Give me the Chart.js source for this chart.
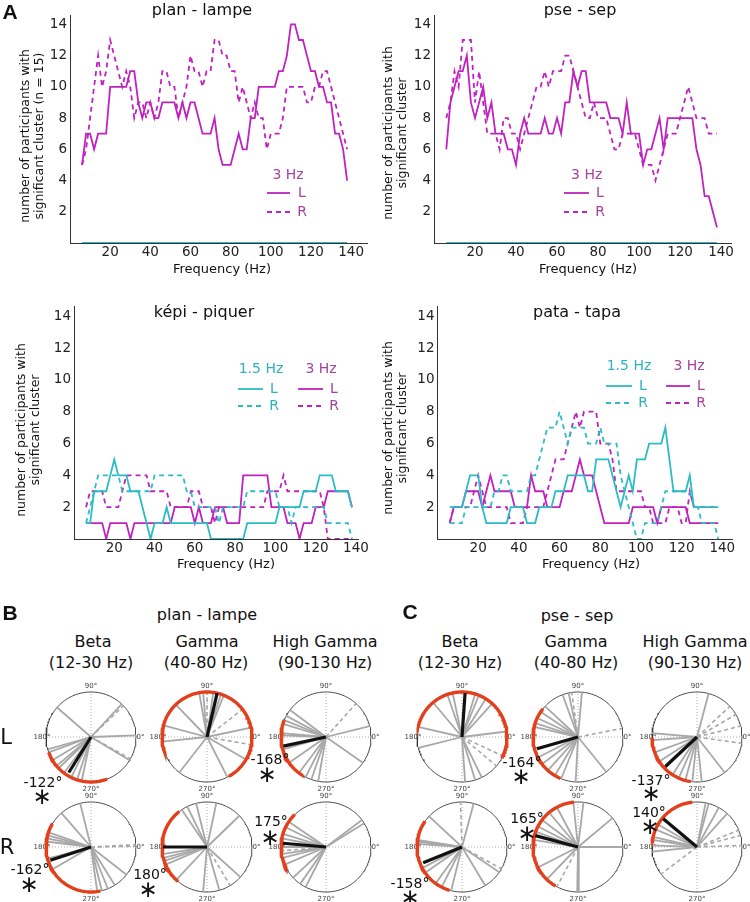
<!DOCTYPE html>
<html>
<head>
<meta charset="utf-8">
<script src="https://cdn.jsdelivr.net/npm/chart.js@4.4.1/dist/chart.umd.min.js"></script>
<style>
body { margin: 0; background: #fff; }
#page { position: relative; width: 750px; height: 902px; overflow: hidden; font-family: 'DejaVu Sans', sans-serif; color: #111; }
canvas { position: absolute; }
.t { position: absolute; transform: translate(-50%, -50%); white-space: nowrap; line-height: 1; }
.panel { font-family: 'Liberation Sans', Arial, sans-serif; font-weight: bold; font-size: 21px; }
.ttl { font-size: 16px; }
.xt { font-size: 13px; }
.yt { font-size: 12.5px; line-height: 14px; text-align: center; transform: translate(-50%, -50%) rotate(-90deg); }
.row { font-size: 21px; }
.ann { font-size: 14px; }
.star { font-size: 23px; color: #111; }
</style>
</head>
<body>
<div id="page">
  <canvas id="c1" width="375" height="280" style="left:0;top:0"></canvas>
  <canvas id="c2" width="375" height="280" style="left:375px;top:0"></canvas>
  <canvas id="c3" width="375" height="280" style="left:0;top:280px"></canvas>
  <canvas id="c4" width="375" height="280" style="left:375px;top:280px"></canvas>

  <div class="t panel" style="left:10px;top:11px">A</div>
  <div class="t ttl" style="left:202px;top:10px">plan - lampe</div>
  <div class="t ttl" style="left:580px;top:10px">pse - sep</div>
  <div class="t ttl" style="left:204px;top:312px">képi - piquer</div>
  <div class="t ttl" style="left:577px;top:312px">pata - tapa</div>
  <div class="t xt" style="left:222px;top:268px">Frequency (Hz)</div>
  <div class="t xt" style="left:588px;top:268px">Frequency (Hz)</div>
  <div class="t xt" style="left:226px;top:563px">Frequency (Hz)</div>
  <div class="t xt" style="left:591px;top:563px">Frequency (Hz)</div>
  <div class="t yt" style="left:32px;top:136px">number of participants with<br>significant cluster (n = 15)</div>
  <div class="t yt" style="left:395px;top:133px">number of participants with<br>significant cluster</div>
  <div class="t yt" style="left:28px;top:430px">number of participants with<br>significant cluster</div>
  <div class="t yt" style="left:395px;top:428px">number of participants with<br>significant cluster</div>

  <div class="t panel" style="left:10px;top:612px">B</div>
  <div class="t panel" style="left:410px;top:611px">C</div>
  <div class="t ttl" style="left:207px;top:615px">plan - lampe</div>
  <div class="t ttl" style="left:577px;top:616px">pse - sep</div>
  <div class="t ttl" style="left:93px;top:642px">Beta</div>
  <div class="t ttl" style="left:91px;top:663px">(12-30 Hz)</div>
  <div class="t ttl" style="left:207px;top:642px">Gamma</div>
  <div class="t ttl" style="left:206px;top:663px">(40-80 Hz)</div>
  <div class="t ttl" style="left:325px;top:642px">High Gamma</div>
  <div class="t ttl" style="left:325px;top:663px">(90-130 Hz)</div>
  <div class="t ttl" style="left:460px;top:642px">Beta</div>
  <div class="t ttl" style="left:460px;top:663px">(12-30 Hz)</div>
  <div class="t ttl" style="left:576px;top:642px">Gamma</div>
  <div class="t ttl" style="left:576px;top:663px">(40-80 Hz)</div>
  <div class="t ttl" style="left:695px;top:642px">High Gamma</div>
  <div class="t ttl" style="left:695px;top:663px">(90-130 Hz)</div>
  <div class="t row" style="left:6px;top:737px">L</div>
  <div class="t row" style="left:7px;top:847px">R</div>
</div>
<script>
// frequency axis (Hz)
const freqs = [6, 8, 10, 12, 14, 16, 18, 20, 22, 24,
  26, 28, 30, 32, 34, 36, 38, 40, 42, 44,
  46, 48, 50, 52, 54, 56, 58, 60, 62, 64,
  66, 68, 70, 72, 74, 76, 78, 80, 82, 84,
  86, 88, 90, 92, 94, 96, 98, 100, 102, 104,
  106, 108, 110, 112, 114, 116, 118, 120, 122, 124,
  126, 128, 130, 132, 134, 136, 138];

// plan - lampe, 3 Hz
const planL = [5, 7, 7, 6, 7, 7, 7, 10, 10, 10,
  10, 10, 11, 11, 9, 8, 9, 9, 8, 8,
  9, 9, 9, 9, 8, 9, 8, 9, 9, 8,
  7, 7, 7, 8, 6, 5, 5, 5, 6, 7,
  6, 6, 8, 8, 10, 10, 10, 10, 10, 11,
  11, 12, 14, 14, 13, 13, 12, 11, 11, 10,
  10, 9, 9, 7, 7, 6, 4];
const planR = [5, 6, 8, 10, 12, 10, 11, 13, 12, 11,
  10, 11, 10, 8, 9, 9, 8, 9, 8, 9,
  11, 11, 10, 10, 8, 9, 10, 12, 11, 11,
  10, 11, 11, 13, 13, 12, 12, 11, 11, 9,
  10, 9, 8, 9, 8, 8, 6, 7, 7, 7,
  8, 10, 10, 10, 10, 10, 9, 9, 10, 10,
  11, 11, 10, 9, 8, 7, 6];

// pse - sep, 3 Hz
const pseL = [6, 9, 10, 11, 11, 12, 9, 8, 9, 10,
  8, 9, 7, 7, 7, 6, 6, 5, 7, 8,
  7, 7, 7, 7, 8, 7, 7, 8, 7, 9,
  9, 11, 10, 11, 11, 9, 9, 9, 9, 9,
  8, 8, 8, 7, 9, 7, 7, 7, 5, 6,
  6, 7, 8, 6, 8, 8, 8, 8, 8, 8,
  8, 6, 5, 3, 3, 2, 1];
const pseR = [8, 9, 11, 10, 13, 13, 13, 9, 11, 9,
  7, 7, 7, 6, 8, 8, 7, 7, 6, 7,
  8, 9, 10, 10, 11, 10, 11, 11, 11, 12,
  12, 11, 10, 9, 8, 8, 9, 8, 8, 8,
  7, 6, 6, 7, 7, 7, 7, 6, 5, 5,
  5, 4, 5, 6, 7, 7, 7, 8, 9, 10,
  9, 8, 8, 8, 7, 7, 7];

// 1.5 Hz rate gave no participant for plan - lampe and pse - sep
const noneTop = [0, 0, 0, 0, 0, 0, 0, 0, 0, 0,
  0, 0, 0, 0, 0, 0, 0, 0, 0, 0,
  0, 0, 0, 0, 0, 0, 0, 0, 0, 0,
  0, 0, 0, 0, 0, 0, 0, 0, 0, 0,
  0, 0, 0, 0, 0, 0, 0, 0, 0, 0,
  0, 0, 0, 0, 0, 0, 0, 0, 0, 0,
  0, 0, 0, 0, 0, 0, 0];

// képi - piquer
const kepiSlowL = [1, 1, 3, 3, 3, 3, 4, 5, 4, 4,
  4, 3, 3, 3, 2, 1, 0, 1, 1, 1,
  2, 1, 1, 1, 1, 1, 1, 1, 1, 1,
  1, 0, 0, 0, 0, 0, 0, 0, 0, 0,
  1, 1, 1, 1, 1, 1, 1, 1, 2, 2,
  2, 2, 2, 2, 3, 3, 3, 3, 4, 4,
  4, 4, 3, 3, 3, 3, 2];
const kepiSlowR = [1, 2, 3, 4, 4, 4, 4, 4, 4, 3,
  3, 3, 3, 3, 3, 3, 3, 4, 4, 4,
  4, 4, 4, 4, 4, 3, 3, 2, 2, 2,
  2, 2, 2, 1, 2, 2, 2, 2, 2, 2,
  3, 3, 3, 3, 3, 3, 3, 3, 2, 2,
  2, 1, 2, 2, 2, 2, 2, 2, 2, 2,
  1, 1, 1, 1, 1, 1, 0];
const kepiFastL = [1, 1, 1, 1, 1, 0, 1, 1, 1, 1,
  1, 0, 1, 1, 1, 1, 1, 1, 1, 1,
  1, 1, 2, 2, 2, 2, 2, 1, 2, 1,
  1, 1, 2, 2, 2, 1, 1, 1, 1, 4,
  4, 4, 4, 4, 4, 4, 2, 2, 2, 2,
  1, 1, 1, 0, 1, 1, 1, 2, 2, 2,
  3, 3, 3, 3, 3, 3, 2];
const kepiFastR = [2, 3, 3, 3, 3, 2, 2, 2, 2, 3,
  4, 4, 4, 4, 4, 4, 3, 3, 3, 3,
  3, 2, 2, 2, 2, 2, 3, 3, 3, 2,
  2, 2, 1, 2, 2, 2, 2, 2, 2, 2,
  2, 2, 2, 2, 2, 3, 3, 3, 3, 4,
  3, 3, 3, 3, 3, 3, 3, 3, 3, 2,
  0, 0, 0, 0, 0, 0, 0];

// pata - tapa
const pataSlowL = [2, 2, 2, 2, 3, 4, 4, 4, 2, 1,
  1, 1, 1, 1, 1, 2, 2, 2, 2, 1,
  1, 1, 2, 2, 2, 2, 3, 3, 3, 4,
  4, 4, 4, 4, 3, 3, 5, 5, 5, 5,
  4, 3, 2, 3, 4, 3, 5, 5, 5, 6,
  6, 6, 6, 7, 5, 3, 3, 3, 3, 4,
  2, 2, 2, 2, 2, 2, 2];
const pataSlowR = [1, 1, 1, 1, 2, 2, 2, 2, 2, 2,
  2, 3, 3, 4, 4, 3, 3, 3, 3, 3,
  4, 4, 5, 6, 7, 7, 7, 8, 7, 6,
  7, 7, 7, 7, 6, 6, 6, 7, 6, 6,
  6, 6, 4, 3, 2, 1, 0, 0, 1, 1,
  1, 1, 2, 3, 3, 3, 3, 3, 3, 3,
  2, 2, 1, 1, 1, 1, 0];
const pataFastL = [1, 2, 2, 2, 3, 3, 3, 3, 2, 3,
  4, 3, 3, 3, 3, 3, 2, 2, 2, 2,
  4, 3, 3, 3, 2, 2, 2, 2, 3, 3,
  3, 4, 5, 4, 4, 4, 3, 2, 1, 1,
  1, 1, 1, 1, 1, 2, 2, 2, 2, 2,
  2, 1, 2, 2, 2, 2, 2, 2, 2, 1,
  1, 1, 1, 1, 1, 1, 1];
const pataFastR = [1, 2, 2, 2, 2, 2, 3, 4, 3, 2,
  2, 2, 2, 2, 2, 1, 1, 1, 1, 2,
  2, 2, 2, 2, 3, 4, 5, 5, 5, 6,
  7, 8, 7, 8, 8, 8, 8, 6, 6, 6,
  5, 3, 3, 3, 3, 3, 3, 3, 2, 2,
  1, 1, 1, 1, 2, 2, 2, 1, 1, 3,
  2, 2, 2, 2, 2, 2, 2];

// phase plots: order L row (B beta, gamma, high gamma, C beta, gamma, high gamma), then R row
const grayAngles = [
  [139, 47, 2, -31, -164, -160, -149, -140, -136, -127, -116, -108, -102],
  [95, 100, 82, 72, 68, 134, 12, -174, -128, -30, -63, 165],
  [143, 152, 158, 163, 175, 178, 14, -35, -164, -145, -127, -117, -109, -100],
  [102, 109, 130, 73, 68, 58, 48, 7, 167, -166, -86, -73, -64],
  [110, 102, 85, 137, 146, 155, 162, 167, -153, -143, -132, -121, -112, -93, -51],
  [75, 175, -176, -160, -147, -136, -123, -114, -105, -96, -84, -52],
  [104, 131, 161, 165, 169, 173, -165, -150, -82, -76, -68, -58, -38],
  [116, 104, 78, 44, 124, -171, -166, -162, -157, -133, -95, -74, -42],
  [37, 32, 146, 154, 163, 169, 180, -171, -166, -157, -137, -125, -117],
  [75, 137, 171, 173, 176, -145, -152, -126, -117, -104, -59, -34],
  [96, 83, 40, 118, 130, 143, 153, 160, 171, 0, -153, -134, -91, -89],
  [79, 75, 61, 48, 150, 157, 167, 171, 178, -174]
];
const dashedAngles = [
  [44, -29], [38, -10, 90], [48], [-40, -25], [98, 11], [43, 30, 14, -8],
  [1, 3], [-59], [-175], [92, -29], [-118], [22, 15, 2, -143]
];
const meanAngles = [-122, 77, -168, 86, -164, -137, -162, 180, 175, -158, 165, 140];
const meanLengths = [0.93, 1.0, 0.97, 0.98, 0.95, 0.96, 0.95, 0.98, 0.96, 0.93, 0.98, 0.98];
const arcStart = [-160, -61, 158, -28, 141, 181, 149, 128, 134, 145, 95, 96];
const arcEnd = [-69, 200, 239, 165, 247, 262, 282, 230, 207, 254, 240, 175];
const meanLabels = ['-122°', '', '-168°', '', '-164°', '-137°', '-162°', '180°', '175°', '-158°', '165°', '140°'];
// label and asterisk spots, page pixels
const labelSpots = [[43, 782], null, [270, 759], null, [522, 762], [651, 780],
  [30, 869], [150, 874], [271, 821], [410, 883], [527, 818], [649, 812]];
const starSpots = [[42, 796], null, [267, 774], null, [521, 776], [651, 793],
  [29, 884], [148, 889], [270, 837], [410, 897], [527, 833], [650, 826]];

const magenta = '#bf22bf';
const cyan = '#2cbcc4';
const magentaText = '#a8429f';
const cyanText = '#2cb2c2';

const hzLegend = {
  id: 'hzLegend',
  afterDraw(chart, args, opts) {
    const ctx = chart.ctx;
    ctx.save();
    ctx.font = '14px "DejaVu Sans"';
    ctx.textAlign = 'center';
    ctx.textBaseline = 'middle';
    (opts.texts || []).forEach(t => {
      ctx.fillStyle = t.color;
      ctx.fillText(t.text, t.x, t.y);
    });
    (opts.lines || []).forEach(l => {
      ctx.strokeStyle = l.color;
      ctx.lineWidth = 1.8;
      ctx.setLineDash(l.dash ? [5, 4] : []);
      ctx.beginPath();
      ctx.moveTo(l.x1, l.y);
      ctx.lineTo(l.x2, l.y);
      ctx.stroke();
    });
    ctx.restore();
  }
};

function series(values, color, dashed) {
  return {
    data: values.map((v, i) => ({ x: freqs[i], y: v })),
    borderColor: color,
    borderWidth: 1.8,
    borderDash: dashed ? [5, 4] : [],
    pointRadius: 0,
    tension: 0,
    fill: false
  };
}

function lineChart(id, datasets, box, legendOpts) {
  const tickFont = { family: 'DejaVu Sans', size: 13.5 };
  return new Chart(document.getElementById(id), {
    type: 'line',
    data: { datasets },
    plugins: [hzLegend],
    options: {
      responsive: false,
      animation: false,
      layout: { padding: { top: box.top, right: box.right, left: 0, bottom: 0 } },
      plugins: { legend: { display: false }, tooltip: { enabled: false }, hzLegend: legendOpts },
      scales: {
        x: {
          type: 'linear', min: 0, max: box.xmax,
          grid: { display: false, drawTicks: false, tickLength: 0 },
          border: { color: '#333', width: 1 },
          ticks: { stepSize: 20, includeBounds: false, padding: 1, color: '#222', font: tickFont,
            maxRotation: 0, callback: v => v === 0 ? '' : v },
          afterFit: s => { s.height = box.xh; }
        },
        y: {
          min: 0, max: 14.6,
          grid: { display: false, drawTicks: false, tickLength: 0 },
          border: { color: '#333', width: 1 },
          ticks: { stepSize: 2, includeBounds: false, padding: 3, color: '#222', font: tickFont,
            callback: v => v === 0 ? '' : v },
          afterFit: s => { s.width = box.yw; }
        }
      }
    }
  });
}

lineChart('c1', [
  series(noneTop, cyan, false),
  series(planL, magenta, false),
  series(planR, magenta, true)
], { top: 15, right: 7.8, xmax: 148, xh: 37, yw: 70 }, {
  texts: [{ text: '3 Hz', color: magentaText, x: 288, y: 175 },
    { text: 'L', color: magentaText, x: 302, y: 193 },
    { text: 'R', color: magentaText, x: 302, y: 212 }],
  lines: [{ color: magenta, x1: 267, x2: 290, y: 193 },
    { color: magenta, x1: 267, x2: 290, y: 212, dash: true }]
});

lineChart('c2', [
  series(noneTop, cyan, false),
  series(pseL, magenta, false),
  series(pseR, magenta, true)
], { top: 15, right: 18.7, xmax: 145, xh: 37, yw: 59 }, {
  texts: [{ text: '3 Hz', color: magentaText, x: 211.7, y: 175 },
    { text: 'L', color: magentaText, x: 225, y: 193 },
    { text: 'R', color: magentaText, x: 225, y: 212 }],
  lines: [{ color: magenta, x1: 189, x2: 214, y: 193 },
    { color: magenta, x1: 189, x2: 214, y: 212, dash: true }]
});

lineChart('c3', [
  series(kepiSlowL, cyan, false),
  series(kepiSlowR, cyan, true),
  series(kepiFastL, magenta, false),
  series(kepiFastR, magenta, true)
], { top: 26.7, right: 17, xmax: 141, xh: 21, yw: 74 }, {
  texts: [{ text: '1.5 Hz', color: cyanText, x: 261, y: 89 },
    { text: '3 Hz', color: magentaText, x: 321, y: 89 },
    { text: 'L', color: cyanText, x: 274, y: 109 },
    { text: 'R', color: cyanText, x: 274, y: 126 },
    { text: 'L', color: magentaText, x: 334, y: 109 },
    { text: 'R', color: magentaText, x: 334, y: 126 }],
  lines: [{ color: cyan, x1: 238, x2: 263, y: 109 },
    { color: cyan, x1: 238, x2: 263, y: 126, dash: true },
    { color: magenta, x1: 298, x2: 323, y: 109 },
    { color: magenta, x1: 298, x2: 323, y: 126, dash: true }]
});

lineChart('c4', [
  series(pataSlowL, cyan, false),
  series(pataSlowR, cyan, true),
  series(pataFastL, magenta, false),
  series(pataFastR, magenta, true)
], { top: 26.7, right: 17.5, xmax: 145, xh: 21, yw: 62.5 }, {
  texts: [{ text: '1.5 Hz', color: cyanText, x: 254, y: 86 },
    { text: '3 Hz', color: magentaText, x: 314, y: 86 },
    { text: 'L', color: cyanText, x: 268, y: 106 },
    { text: 'R', color: cyanText, x: 268, y: 123 },
    { text: 'L', color: magentaText, x: 326, y: 106 },
    { text: 'R', color: magentaText, x: 326, y: 123 }],
  lines: [{ color: cyan, x1: 231, x2: 257, y: 106 },
    { color: cyan, x1: 231, x2: 257, y: 123, dash: true },
    { color: magenta, x1: 291, x2: 315, y: 106 },
    { color: magenta, x1: 291, x2: 315, y: 123, dash: true }]
});

// ---- phase plots ----
const polarCx = [91, 207, 326, 462, 578, 697];
const polarCy = [737, 847];
const polarSize = 180;

function rad(d) { return d * Math.PI / 180; }
function ray(deg, len) {
  return [{ x: 0, y: 0 }, { x: len * Math.cos(rad(deg)), y: len * Math.sin(rad(deg)) }];
}
function arcPoints(a0, a1) {
  const pts = [];
  for (let a = a0; a < a1; a += 2) pts.push({ x: Math.cos(rad(a)), y: Math.sin(rad(a)) });
  pts.push({ x: Math.cos(rad(a1)), y: Math.sin(rad(a1)) });
  return pts;
}

const angleLabels = {
  id: 'angleLabels',
  beforeDatasetsDraw(chart) {
    const { ctx, scales: { x, y } } = chart;
    ctx.save();
    ctx.font = '7px "DejaVu Sans"';
    ctx.fillStyle = '#444';
    ctx.textAlign = 'center';
    ctx.textBaseline = 'middle';
    ctx.fillText('90°', x.getPixelForValue(0), y.getPixelForValue(1.13));
    ctx.fillText('270°', x.getPixelForValue(0), y.getPixelForValue(-1.15));
    ctx.fillText('180°', x.getPixelForValue(-1.09), y.getPixelForValue(0));
    ctx.fillText('0°', x.getPixelForValue(1.1), y.getPixelForValue(0));
    ctx.restore();
  }
};

const page = document.getElementById('page');

meanAngles.forEach((mean, i) => {
  const cx = polarCx[i % 6];
  const cy = polarCy[Math.floor(i / 6)];
  const cv = document.createElement('canvas');
  cv.width = polarSize;
  cv.height = polarSize;
  cv.style.left = (cx - polarSize / 2) + 'px';
  cv.style.top = (cy - polarSize / 2) + 'px';
  page.appendChild(cv);

  const line = { showLine: true, pointRadius: 0, fill: false };
  const sets = [];
  sets.push({ ...line, data: ray(mean, meanLengths[i]), borderColor: '#111', borderWidth: 3.2, order: 0 });
  sets.push({ ...line, data: arcPoints(arcStart[i], arcEnd[i]), borderColor: '#e2401c', borderWidth: 3.4, order: 1 });
  grayAngles[i].forEach(a => sets.push({ ...line, data: ray(a, 1), borderColor: '#a8a8a8', borderWidth: 1.8, order: 2 }));
  dashedAngles[i].forEach(a => sets.push({ ...line, data: ray(a, 1), borderColor: '#a8a8a8', borderWidth: 1.6, borderDash: [4, 3], order: 2 }));
  sets.push({ ...line, data: arcPoints(0, 360), borderColor: '#333', borderWidth: 0.9, order: 3 });
  sets.push({ ...line, data: [{ x: -1, y: 0 }, { x: 1, y: 0 }], borderColor: '#999', borderWidth: 0.8, borderDash: [1, 2], order: 4 });
  sets.push({ ...line, data: [{ x: 0, y: -1 }, { x: 0, y: 1 }], borderColor: '#999', borderWidth: 0.8, borderDash: [1, 2], order: 4 });

  new Chart(cv, {
    type: 'scatter',
    data: { datasets: sets },
    plugins: [angleLabels],
    options: {
      responsive: false,
      animation: false,
      layout: { padding: 0 },
      plugins: { legend: { display: false }, tooltip: { enabled: false } },
      scales: {
        x: { display: false, min: -2, max: 2 },
        y: { display: false, min: -2, max: 2 }
      }
    }
  });

  if (meanLabels[i]) {
    const lab = document.createElement('div');
    lab.className = 't ann';
    lab.textContent = meanLabels[i];
    lab.style.left = labelSpots[i][0] + 'px';
    lab.style.top = labelSpots[i][1] + 'px';
    page.appendChild(lab);
    const st = document.createElement('div');
    st.className = 't star';
    st.textContent = '∗';
    st.style.left = starSpots[i][0] + 'px';
    st.style.top = starSpots[i][1] + 'px';
    page.appendChild(st);
  }
});
</script>
</body>
</html>
